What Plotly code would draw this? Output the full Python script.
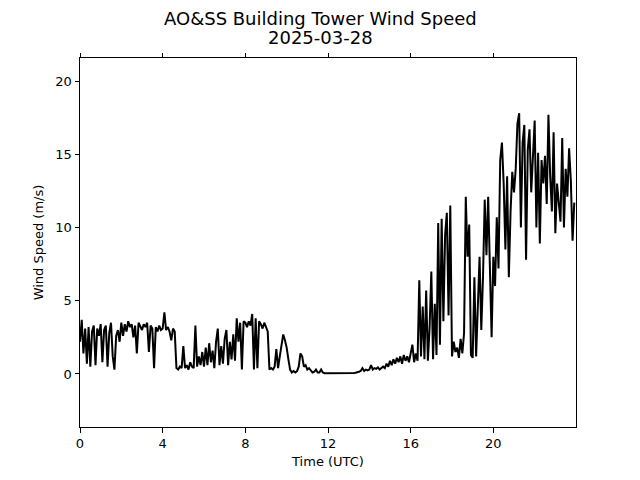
import plotly.graph_objects as go

# 5-minute wind speed samples (m/s), one list per UTC hour
h00 = [2.2, 3.7, 1.4, 3.1, 0.7, 3.2, 0.5, 2.9, 3.3, 0.6, 3.1, 2.6]
h01 = [3.4, 0.8, 3.0, 3.3, 0.5, 2.8, 3.5, 1.2, 0.3, 2.6, 3.0, 2.2]
h02 = [3.5, 2.6, 3.4, 2.9, 3.6, 3.2, 3.4, 2.5, 3.3, 1.4, 3.5, 3.3]
h03 = [3.0, 3.4, 3.2, 3.5, 1.5, 3.3, 3.1, 0.4, 3.2, 2.9, 3.3, 3.0]
h04 = [3.1, 4.2, 3.0, 3.2, 2.9, 2.3, 3.1, 2.9, 0.4, 0.3, 0.5, 0.4]
h05 = [1.9, 0.4, 0.6, 0.3, 0.8, 0.5, 0.4, 3.3, 0.5, 1.2, 0.6, 1.5]
h06 = [0.5, 1.8, 0.6, 2.1, 0.8, 1.6, 0.4, 2.2, 3.1, 0.6, 1.9, 0.7]
h07 = [2.4, 3.0, 0.6, 2.2, 1.0, 2.7, 0.9, 3.8, 2.2, 3.5, 0.3, 3.6]
h08 = [3.5, 3.2, 3.6, 3.3, 4.1, 0.3, 3.8, 0.4, 3.6, 3.4, 3.1, 3.5]
h09 = [3.2, 2.9, 0.3, 0.4, 0.3, 0.5, 1.7, 0.4, 1.2, 2.0, 2.7, 2.3]
h10 = [1.8, 1.0, 0.3, 0.1, 0.2, 0.1, 0.2, 0.5, 1.4, 1.2, 0.5, 0.6]
h11 = [0.3, 0.4, 0.2, 0.1, 0.15, 0.3, 0.1, 0.1, 0.3, 0.1, 0.05, 0.05]
h12 = [0.05, 0.03, 0.02, 0.02, 0.02, 0.02, 0.03, 0.02, 0.02, 0.03, 0.03, 0.04]
h13 = [0.04, 0.05, 0.05, 0.06, 0.08, 0.1, 0.15, 0.2, 0.4, 0.2, 0.3, 0.25]
h14 = [0.3, 0.6, 0.3, 0.4, 0.35, 0.45, 0.3, 0.4, 0.5, 0.4, 0.7, 0.5]
h15 = [0.9, 0.6, 1.0, 0.7, 1.1, 0.8, 1.2, 0.7, 1.3, 0.9, 1.2, 0.8]
h16 = [1.3, 2.0, 0.8, 1.4, 0.9, 6.4, 1.2, 4.6, 1.0, 5.7, 0.9, 3.2]
h17 = [7.0, 1.0, 4.8, 1.3, 10.3, 2.0, 10.6, 3.6, 9.5, 11.0, 4.0, 11.5]
h18 = [1.2, 2.2, 1.5, 1.8, 1.1, 2.4, 1.4, 2.8, 12.1, 8.0, 10.2, 1.3]
h19 = [1.1, 6.6, 1.2, 4.2, 8.0, 3.0, 6.6, 11.9, 8.1, 12.1, 7.6, 2.5]
h20 = [8.0, 6.0, 10.7, 7.2, 14.6, 15.8, 13.0, 8.5, 13.5, 6.6, 11.1, 13.8]
h21 = [12.4, 14.0, 17.1, 17.8, 10.0, 15.8, 17.0, 7.8, 15.3, 16.7, 12.4, 14.9]
h22 = [17.3, 10.0, 15.1, 8.9, 14.6, 13.0, 14.9, 11.6, 17.7, 13.5, 11.1, 16.5]
h23 = [9.6, 13.0, 11.8, 10.4, 16.1, 10.0, 14.0, 12.1, 15.4, 13.2, 9.1, 11.7]

hours = [h00, h01, h02, h03, h04, h05, h06, h07, h08, h09, h10, h11,
         h12, h13, h14, h15, h16, h17, h18, h19, h20, h21, h22, h23]
SAMPLE_MIN = 5

speed = []
time_utc = []
for hr, vals in enumerate(hours):
    for k, v in enumerate(vals):
        time_utc.append(hr + k * SAMPLE_MIN / 60.0)
        speed.append(v)

x_ticks = [0, 4, 8, 12, 16, 20]
y_ticks = [0, 5, 10, 15, 20]
title_line1 = "AO&SS Building Tower Wind Speed"
title_line2 = "2025-03-28"

FONT = "DejaVu Sans, Liberation Sans, sans-serif"

fig = go.Figure()
fig.add_trace(go.Scatter(x=time_utc, y=speed, mode="lines",
                         line=dict(color="black", width=2),
                         showlegend=False, hoverinfo="skip"))

# plot area: 496 x 369 px; page has an 8px body margin which is compensated here
L, T, PW, PH = 72, 50, 496, 369
fig.update_layout(
    width=640, height=480,
    margin=dict(l=L, r=640 - L - PW, t=T, b=480 - T - PH),
    paper_bgcolor="white", plot_bgcolor="white",
    font=dict(family=FONT, size=13, color="black"),
)
cx = (312 - L) / PW
fig.add_annotation(text=title_line1, xref="paper", yref="paper",
                   x=cx, y=1 + (T - 10.5) / PH, xanchor="center", yanchor="middle",
                   showarrow=False, font=dict(family=FONT, size=18, color="black"))
fig.add_annotation(text=title_line2, xref="paper", yref="paper",
                   x=cx, y=1 + (T - 29.5) / PH, xanchor="center", yanchor="middle",
                   showarrow=False, font=dict(family=FONT, size=18, color="black"))

fig.update_xaxes(range=[0, 24], tickvals=x_ticks, ticktext=[str(t) for t in x_ticks],
                 showgrid=False, zeroline=False, showline=True, linecolor="black",
                 linewidth=1, mirror="ticks", ticks="outside", ticklen=4.5,
                 tickwidth=1, tickcolor="black",
                 title=dict(text="Time (UTC)", standoff=6,
                            font=dict(family=FONT, size=13)),
                 tickfont=dict(family=FONT, size=13))
fig.update_yaxes(range=[-3.62, 21.57], tickvals=y_ticks, ticktext=[str(t) for t in y_ticks],
                 showgrid=False, zeroline=False, showline=True, linecolor="black",
                 linewidth=1, mirror=True, ticks="outside", ticklen=4.5,
                 tickwidth=1, tickcolor="black",
                 title=dict(text="Wind Speed (m/s)", standoff=8,
                            font=dict(family=FONT, size=13)),
                 tickfont=dict(family=FONT, size=13))

fig.write_html("out.html")
